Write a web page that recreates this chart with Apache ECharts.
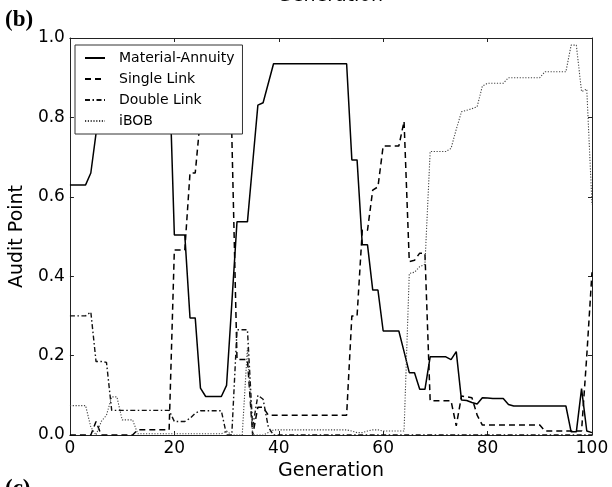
<!DOCTYPE html>
<html lang="en">
<head>
  <meta charset="UTF-8">
  <title>Audit Point by Generation</title>
  <script src="https://cdn.jsdelivr.net/npm/echarts@6/dist/echarts.min.js"></script>
  <style>
    html, body { margin: 0; padding: 0; background: #fff; }
    #main { width: 612px; height: 487px; }
  </style>
</head>
<body>
  <div id="main"></div>
  <script>
    // generations 0..100
    var generations = [];
    for (var g = 0; g <= 100; g++) generations.push(g);

    var seriesNames = ['Material-Annuity', 'Single Link', 'Double Link', 'iBOB'];

    // values, one per generation
    var materialAnnuity = [
      0.63, 0.63, 0.63, 0.63, 0.66, 0.76, 0.88, 0.935, 0.935, 0.935,
      0.935, 0.935, 0.935, 0.935, 0.935, 0.935, 0.935, 0.935, 0.935, 0.935,
      0.504, 0.504, 0.504, 0.295, 0.295, 0.118, 0.097, 0.097, 0.097, 0.097,
      0.125, 0.33, 0.537, 0.537, 0.537, 0.684, 0.831, 0.837, 0.886, 0.935,
      0.935, 0.935, 0.935, 0.935, 0.935, 0.935, 0.935, 0.935, 0.935, 0.935,
      0.935, 0.935, 0.935, 0.935, 0.693, 0.693, 0.479, 0.479, 0.365, 0.365,
      0.262, 0.262, 0.262, 0.262, 0.21, 0.157, 0.157, 0.115, 0.115, 0.197,
      0.197, 0.197, 0.197, 0.19, 0.21, 0.088, 0.087, 0.082, 0.078, 0.094,
      0.093, 0.092, 0.092, 0.092, 0.077, 0.073, 0.073, 0.073, 0.073, 0.073,
      0.073, 0.073, 0.073, 0.073, 0.073, 0.073, 0.008, 0.008, 0.117, 0.01,
      0.006
    ];
    var singleLink = [
      0, 0, 0, 0, 0, 0.034, 0, 0, 0, 0,
      0, 0, 0, 0.013, 0.013, 0.013, 0.013, 0.013, 0.013, 0.013,
      0.466, 0.466, 0.466, 0.66, 0.66, 0.80, 0.80, 0.80, 0.80, 0.80,
      0.80, 0.76, 0.19, 0.19, 0.19, 0.0, 0.07, 0.07, 0.05, 0.05,
      0.05, 0.05, 0.05, 0.05, 0.05, 0.05, 0.05, 0.05, 0.05, 0.05,
      0.05, 0.05, 0.05, 0.05, 0.30, 0.30, 0.516, 0.516, 0.617, 0.625,
      0.728, 0.728, 0.728, 0.728, 0.79, 0.437, 0.44, 0.458, 0.458, 0.086,
      0.086, 0.086, 0.086, 0.086, 0.023, 0.098, 0.096, 0.094, 0.05, 0.025,
      0.025, 0.025, 0.025, 0.025, 0.025, 0.025, 0.025, 0.025, 0.025, 0.025,
      0.025, 0.01, 0.01, 0.01, 0.01, 0.01, 0.01, 0.01, 0.01, 0.2,
      0.41
    ];
    var doubleLink = [
      0.30, 0.30, 0.30, 0.30, 0.31, 0.185, 0.185, 0.183, 0.062, 0.062,
      0.062, 0.062, 0.062, 0.062, 0.062, 0.062, 0.062, 0.062, 0.062, 0.062,
      0.034, 0.034, 0.034, 0.042, 0.055, 0.061, 0.061, 0.061, 0.061, 0.061,
      0, 0, 0.265, 0.265, 0.265, 0.02, 0.1, 0.09, 0.02, 0,
      0, 0, 0, 0, 0, 0, 0, 0, 0, 0,
      0, 0, 0, 0, 0, 0, 0, 0, 0, 0,
      0, 0, 0, 0, 0, 0, 0, 0, 0, 0,
      0, 0, 0, 0, 0, 0, 0, 0, 0, 0,
      0, 0, 0, 0, 0, 0, 0, 0, 0, 0,
      0, 0, 0, 0, 0, 0, 0, 0, 0, 0,
      0
    ];
    var iBOB = [
      0.074, 0.074, 0.074, 0.074, 0.02, 0, 0.034, 0.05, 0.096, 0.096,
      0.038, 0.038, 0.038, 0.003, 0.003, 0.003, 0.003, 0.003, 0.003, 0.003,
      0.003, 0.003, 0.003, 0.003, 0.003, 0.003, 0.003, 0.003, 0.003, 0.003,
      0.01, 0, 0, 0, 0.22, 0, 0, 0, 0.006, 0.013,
      0.013, 0.013, 0.013, 0.013, 0.013, 0.013, 0.013, 0.013, 0.013, 0.013,
      0.013, 0.013, 0.013, 0.013, 0.01, 0.006, 0.006, 0.01, 0.013, 0.013,
      0.01, 0.01, 0.01, 0.01, 0.01, 0.407, 0.41, 0.424, 0.43, 0.714,
      0.714, 0.714, 0.714, 0.722, 0.77, 0.814, 0.818, 0.822, 0.827, 0.879,
      0.886, 0.886, 0.886, 0.886, 0.90, 0.90, 0.90, 0.90, 0.90, 0.90,
      0.90, 0.915, 0.915, 0.915, 0.915, 0.915, 0.982, 0.982, 0.865, 0.871,
      0.58
    ];

    var xTicks = [0, 20, 40, 60, 80, 100];
    var yTicks = [0.0, 0.2, 0.4, 0.6, 0.8, 1.0];

    function pairs(vals) {
      return vals.map(function (v, i) { return [generations[i], v]; });
    }

    var font = 'DejaVu Sans';
    var frameColor = '#222';

    var myChart = echarts.init(document.getElementById('main'));

    // 坐标轴: bottom/left carry labels, top/right only frame + ticks
    var baseX = {
      type: 'value',
      min: xTicks[0],
      max: xTicks[xTicks.length - 1],
      interval: 20,
      axisLine: { onZero: false, lineStyle: { color: frameColor, width: 1 } },
      axisTick: { inside: true, length: 4, lineStyle: { color: frameColor } },
      splitLine: { show: false }
    };
    var baseY = {
      type: 'value',
      min: yTicks[0],
      max: yTicks[yTicks.length - 1],
      interval: 0.2,
      axisLine: { show: true, onZero: false, lineStyle: { color: frameColor, width: 1 } },
      axisTick: { show: true, inside: true, length: 4, lineStyle: { color: frameColor } },
      splitLine: { show: false }
    };

    var option = {
      animation: false,
      backgroundColor: '#fff',
      grid: { left: 67, right: 20, top: 38, bottom: 52 },
      legend: {
        data: seriesNames,
        orient: 'vertical',
        left: 75,
        top: 45,
        backgroundColor: '#fff',
        borderColor: '#333',
        borderWidth: 1,
        borderRadius: 0,
        padding: [6, 8, 6, 9],
        itemWidth: 20,
        itemHeight: 14,
        itemGap: 7,
        // only the line sample, no marker on it
        itemStyle: { opacity: 0 },
        textStyle: { fontFamily: font, fontSize: 14, color: '#000', padding: [0, 0, 0, 9] }
      },
      xAxis: [
        Object.assign({}, baseX, {
          position: 'bottom',
          name: 'Generation',
          nameLocation: 'middle',
          nameGap: 17,
          nameTextStyle: { fontFamily: font, fontSize: 19, color: '#000' },
          axisLabel: { fontFamily: font, fontSize: 17, color: '#000', margin: 5 }
        }),
        Object.assign({}, baseX, { position: 'top', axisLabel: { show: false } })
      ],
      yAxis: [
        Object.assign({}, baseY, {
          position: 'left',
          name: 'Audit Point',
          nameLocation: 'middle',
          nameGap: 33,
          nameTextStyle: { fontFamily: font, fontSize: 19, color: '#000' },
          axisLabel: {
            fontFamily: font, fontSize: 17, color: '#000', margin: 5,
            formatter: function (v) { return v.toFixed(1); }
          }
        }),
        Object.assign({}, baseY, { position: 'right', axisLabel: { show: false } })
      ],
      graphic: [
        { type: 'text', left: 5, top: 9, style: { text: '(b)', font: 'bold 23px "Liberation Serif"', fill: '#000' } },
        { type: 'text', left: 5, top: 478, style: { text: '(c)', font: 'bold 23px "Liberation Serif"', fill: '#000' } },
        { type: 'text', x: 330, y: -4, style: { text: 'Generation', font: '19px "DejaVu Sans"', fill: '#000', align: 'center', verticalAlign: 'middle' } }
      ],
      series: [
        {
          name: seriesNames[0], type: 'line', data: pairs(materialAnnuity),
          symbol: 'none', lineStyle: { color: '#000', width: 1.5, type: 'solid' }, itemStyle: { color: '#000' }
        },
        {
          name: seriesNames[1], type: 'line', data: pairs(singleLink),
          symbol: 'none', lineStyle: { color: '#000', width: 1.5, type: [6, 4] }, itemStyle: { color: '#000' }
        },
        {
          name: seriesNames[2], type: 'line', data: pairs(doubleLink),
          symbol: 'none', lineStyle: { color: '#111', width: 1.4, type: [5, 2.5, 1.5, 2.5] }, itemStyle: { color: '#111' }
        },
        {
          name: seriesNames[3], type: 'line', data: pairs(iBOB),
          symbol: 'none', lineStyle: { color: '#444', width: 1.1, type: [1.2, 1.6] }, itemStyle: { color: '#444' }
        }
      ]
    };

    myChart.setOption(option);
  </script>
</body>
</html>
